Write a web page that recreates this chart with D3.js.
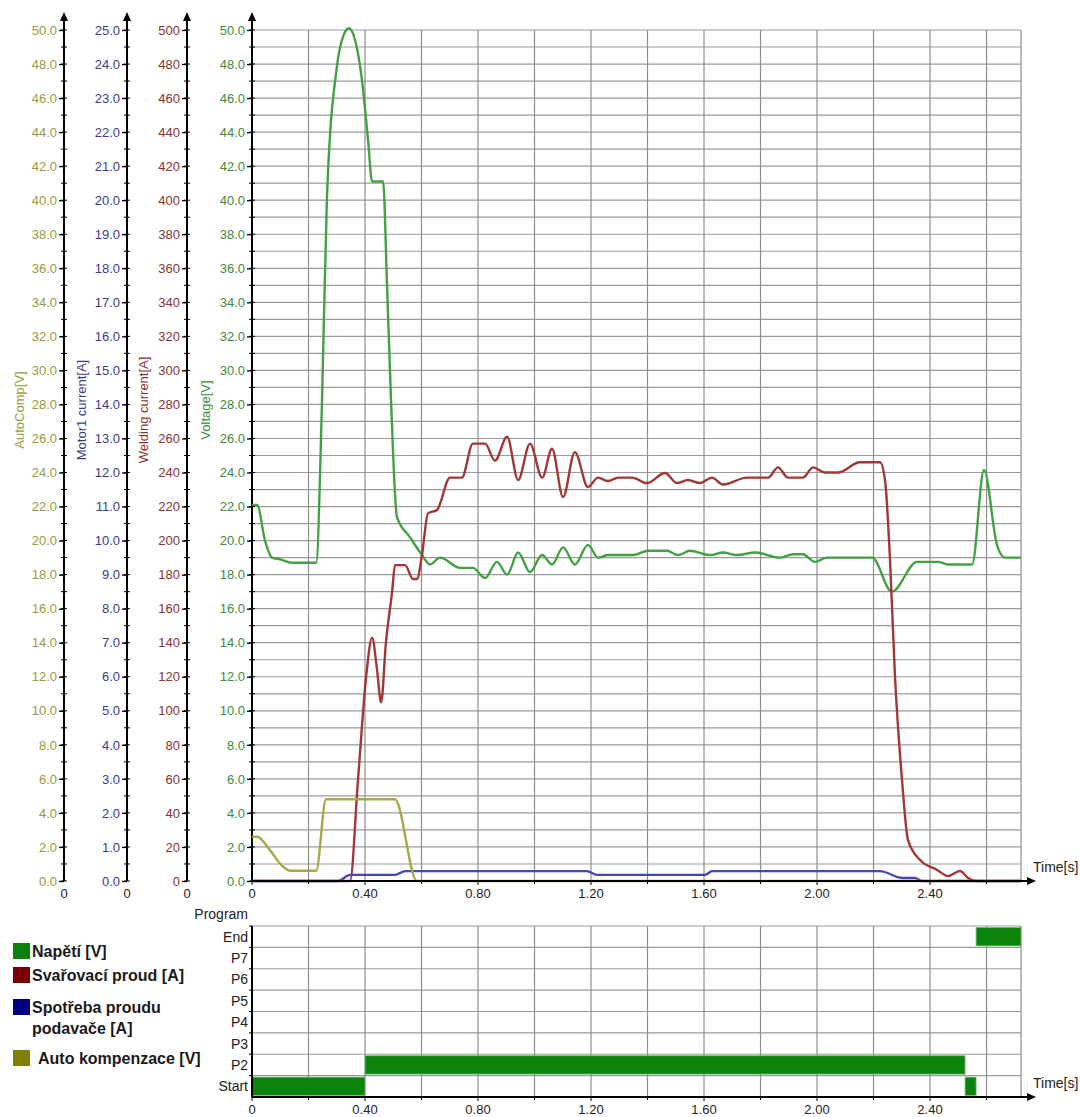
<!DOCTYPE html>
<html>
<head>
<meta charset="utf-8">
<script src="https://cdnjs.cloudflare.com/ajax/libs/d3/7.8.5/d3.min.js"></script>
<style>
    body { margin: 0; background: #fff; }
    svg { display: block; font-family: "Liberation Sans", Arial, sans-serif; }
</style>
</head>
<body>
<div id="chart"></div>
<script>
// [time s, value]
const voltage = [
    [0, 22.1], [0.018, 22.1], [0.046, 20.0], [0.071, 19.0], [0.099, 18.9], [0.142, 18.7],
    [0.227, 18.7], [0.248, 28.3], [0.265, 40.0], [0.301, 47.9], [0.322, 49.6], [0.343, 50.1],
    [0.365, 49.4], [0.389, 47.1], [0.411, 43.5], [0.425, 41.1], [0.464, 41.1], [0.478, 35.0],
    [0.492, 28.3], [0.513, 21.4], [0.559, 20.2], [0.602, 19.15], [0.630, 18.6], [0.666, 19.0],
    [0.736, 18.4], [0.782, 18.4], [0.825, 17.8], [0.867, 18.75], [0.903, 18.0], [0.942, 19.3],
    [0.984, 18.15], [1.027, 19.15], [1.062, 18.6], [1.101, 19.6], [1.143, 18.6], [1.189, 19.75],
    [1.225, 19.0], [1.260, 19.15], [1.349, 19.15], [1.402, 19.4], [1.469, 19.4], [1.508, 19.15],
    [1.550, 19.4], [1.621, 19.15], [1.667, 19.3], [1.717, 19.15], [1.781, 19.3], [1.869, 19.0],
    [1.915, 19.2], [1.950, 19.2], [1.993, 18.75], [2.035, 19.0], [2.195, 19.0], [2.265, 17.0],
    [2.354, 18.75], [2.428, 18.75], [2.464, 18.6], [2.549, 18.6], [2.591, 24.15], [2.637, 19.75],
    [2.665, 19.0], [2.722, 19.0]
];

const weldingCurrent = [
    [0, 0], [0.347, 0], [0.375, 59], [0.404, 120], [0.425, 143], [0.442, 125], [0.457, 105],
    [0.474, 140], [0.496, 170], [0.506, 185.6], [0.542, 185.6], [0.570, 177.4], [0.584, 177.4],
    [0.602, 192], [0.623, 216], [0.655, 218], [0.701, 237], [0.743, 237], [0.782, 257],
    [0.825, 257], [0.860, 247], [0.903, 261], [0.942, 235.6], [0.984, 257], [1.027, 237],
    [1.062, 254], [1.101, 225.6], [1.143, 252], [1.189, 231.5], [1.225, 237], [1.260, 235],
    [1.296, 237], [1.345, 237], [1.398, 233.8], [1.462, 239.7], [1.504, 233.8], [1.543, 235.6],
    [1.586, 233.8], [1.628, 237], [1.667, 233], [1.752, 237], [1.827, 237], [1.862, 243],
    [1.897, 237], [1.950, 237], [1.986, 243], [2.028, 240], [2.074, 240], [2.152, 246],
    [2.223, 246], [2.241, 235], [2.258, 190], [2.276, 120], [2.301, 59], [2.322, 24],
    [2.365, 12.3], [2.425, 6.5], [2.464, 2.9], [2.506, 5.9], [2.535, 1.8], [2.566, 0], [2.722, 0]
];

const motorCurrent = [
    [0, 0], [0.304, 0], [0.347, 0.18], [0.506, 0.18], [0.542, 0.29], [1.186, 0.29],
    [1.221, 0.18], [1.604, 0.18], [1.628, 0.29], [2.223, 0.29], [2.301, 0.09], [2.347, 0.09],
    [2.372, 0], [2.722, 0]
];

const autoComp = [
    [0, 2.6], [0.018, 2.6], [0.064, 1.8], [0.106, 0.9], [0.135, 0.6], [0.227, 0.6],
    [0.262, 4.8], [0.506, 4.8], [0.584, 0], [2.722, 0]
];

const programSteps = ['End', 'P7', 'P6', 'P5', 'P4', 'P3', 'P2', 'Start'];
const programBars = [
    { step: 'Start', from: 0, to: 0.40 },
    { step: 'P2', from: 0.40, to: 2.524 },
    { step: 'Start', from: 2.524, to: 2.563 },
    { step: 'End', from: 2.563, to: 2.722 }
];

const timeMax = 2.722;
const timeTicks = [0, 0.4, 0.8, 1.2, 1.6, 2.0, 2.4];
const axisTitles = ['AutoComp[V]', 'Motor1 current[A]', 'Welding current[A]', 'Voltage[V]'];
const axisMax = [50, 25, 500, 50];
const axisMajor = [2, 1, 20, 2];
const axisMinor = [1, 0.5, 10, 1];
const legendLabels = [['Napětí [V]'], ['Svařovací proud [A]'], ['Spotřeba proudu', 'podavače [A]'], ['Auto kompenzace [V]']];

document.addEventListener('DOMContentLoaded', () => {
    const W = 1080, H = 1117;
    const plot = { left: 252, right: 1021, top: 30, bottom: 881 };
    const prog = { top: 926, bottom: 1097 };

    const svg = d3.select('#chart')
        .append('svg')
        .attr('width', W)
        .attr('height', H);

    svg.append('rect').attr('width', W).attr('height', H).attr('fill', '#fff');

    const x = d3.scaleLinear().domain([0, timeMax]).range([plot.left, plot.right]);

    // axis styling per series (autocomp, motor, welding, voltage)
    const axisX = [64, 127, 187, 252];
    const labelColor = ['#9a9a3a', '#3c3c8a', '#8a3232', '#3c8c3c'];
    const lineColor = ['#a8a848', '#4646b4', '#a03838', '#44a044'];
    const fmt = [d3.format('.1f'), d3.format('.1f'), d3.format('d'), d3.format('.1f')];
    const titleX = [19, 81, 143, 205];

    const yScales = axisMax.map(m => d3.scaleLinear().domain([0, m]).range([plot.bottom, plot.top]));
    const yV = yScales[3];

    // grid lines, main chart
    const grid = svg.append('g').attr('class', 'grid');
    grid.selectAll('line.h')
        .data(d3.range(1, 51))
        .enter()
        .append('line')
        .attr('x1', plot.left).attr('x2', plot.right)
        .attr('y1', d => yV(d)).attr('y2', d => yV(d))
        .attr('stroke', '#9a9a9a').attr('stroke-width', 1.2);
    grid.selectAll('line.v')
        .data(d3.range(1, 14).map(i => i * 0.2))
        .enter()
        .append('line')
        .attr('x1', d => x(d)).attr('x2', d => x(d))
        .attr('y1', plot.top).attr('y2', plot.bottom)
        .attr('stroke', '#8e8e8e').attr('stroke-width', 1.2);
    grid.append('line')
        .attr('x1', plot.right).attr('x2', plot.right)
        .attr('y1', plot.top).attr('y2', plot.bottom)
        .attr('stroke', '#8e8e8e').attr('stroke-width', 1.2);

    // y axes
    yScales.forEach((y, i) => {
        const g = svg.append('g')
            .attr('transform', `translate(${axisX[i]},0)`)
            .call(d3.axisLeft(y)
                .tickValues(d3.range(0, axisMax[i] + 1e-6, axisMajor[i]))
                .tickFormat(fmt[i])
                .tickSize(5)
                .tickSizeOuter(0)
                .tickPadding(2));
        g.select('.domain').remove();
        g.selectAll('.tick line').attr('stroke', '#000').attr('stroke-width', 1.3);
        g.selectAll('.tick text')
            .attr('fill', labelColor[i])
            .style('font-size', '13px')
            .style('font-family', '"Liberation Sans", Arial, sans-serif');

        g.selectAll('line.minor')
            .data(d3.range(0, axisMax[i] + 1e-6, axisMinor[i]))
            .enter()
            .append('line')
            .attr('x1', -3).attr('x2', 3)
            .attr('y1', d => y(d)).attr('y2', d => y(d))
            .attr('stroke', '#000').attr('stroke-width', 1);

        g.append('line')
            .attr('x1', 0).attr('x2', 0)
            .attr('y1', plot.bottom).attr('y2', 19)
            .attr('stroke', '#000').attr('stroke-width', 2);
        g.append('path')
            .attr('d', 'M0,12 L-4,21 L4,21 Z')
            .attr('fill', '#000');

        svg.append('text')
            .attr('transform', `translate(${titleX[i]},410) rotate(-90)`)
            .attr('text-anchor', 'middle')
            .attr('dominant-baseline', 'central')
            .attr('fill', labelColor[i])
            .style('font-size', '13px')
            .text(axisTitles[i]);

        // "0" under each axis
        if (i < 3) {
            svg.append('text')
                .attr('x', axisX[i]).attr('y', 898)
                .attr('text-anchor', 'middle')
                .attr('fill', '#222')
                .style('font-size', '13px')
                .text('0');
        }
    });

    // series lines
    const series = [voltage, weldingCurrent, motorCurrent, autoComp];
    const seriesAxis = [3, 2, 1, 0];
    series.forEach((data, k) => {
        const ai = seriesAxis[k];
        const line = d3.line()
            .x(d => x(d[0]))
            .y(d => yScales[ai](d[1]))
            .curve(d3.curveMonotoneX);
        svg.append('path')
            .datum(data)
            .attr('fill', 'none')
            .attr('stroke', lineColor[ai])
            .attr('stroke-width', 2.4)
            .attr('stroke-linejoin', 'round')
            .attr('d', line);
    });

    // x axis helper
    const drawTimeAxis = (yPos) => {
        const g = svg.append('g').attr('transform', `translate(0,${yPos})`);
        g.append('line')
            .attr('x1', plot.left).attr('x2', 1029)
            .attr('stroke', '#000').attr('stroke-width', 2);
        g.append('path')
            .attr('d', 'M1036,0 L1027,-4 L1027,4 Z')
            .attr('fill', '#000');
        g.selectAll('line.tk')
            .data(d3.range(0, 14).map(i => i * 0.2))
            .enter()
            .append('line')
            .attr('x1', d => x(d)).attr('x2', d => x(d))
            .attr('y1', 0).attr('y2', (d, i) => i % 2 === 0 ? 4 : 3)
            .attr('stroke', '#000');
        g.selectAll('text.tl')
            .data(timeTicks)
            .enter()
            .append('text')
            .attr('x', d => x(d))
            .attr('y', 17)
            .attr('text-anchor', 'middle')
            .attr('fill', '#222')
            .style('font-size', '13px')
            .text(d => d === 0 ? '0' : d3.format('.2f')(d));
        g.append('text')
            .attr('x', 1033).attr('y', -9)
            .attr('fill', '#222')
            .style('font-size', '14px')
            .text('Time[s]');
    };
    drawTimeAxis(plot.bottom);

    // program chart
    const yP = d3.scaleBand().domain(programSteps).range([prog.top, prog.bottom]);
    const pg = svg.append('g').attr('class', 'program');

    pg.selectAll('line.h')
        .data(programSteps)
        .enter()
        .append('line')
        .attr('x1', plot.left).attr('x2', plot.right)
        .attr('y1', d => yP(d)).attr('y2', d => yP(d))
        .attr('stroke', '#9a9a9a').attr('stroke-width', 1.2);
    pg.selectAll('line.v')
        .data(d3.range(1, 14).map(i => i * 0.2))
        .enter()
        .append('line')
        .attr('x1', d => x(d)).attr('x2', d => x(d))
        .attr('y1', prog.top).attr('y2', prog.bottom)
        .attr('stroke', '#8e8e8e').attr('stroke-width', 1.2);
    pg.append('line')
        .attr('x1', plot.right).attr('x2', plot.right)
        .attr('y1', prog.top).attr('y2', prog.bottom)
        .attr('stroke', '#8e8e8e').attr('stroke-width', 1.2);

    pg.selectAll('rect.bar')
        .data(programBars)
        .enter()
        .append('rect')
        .attr('x', d => x(d.from))
        .attr('width', d => x(d.to) - x(d.from))
        .attr('y', d => yP(d.step) + 1.5)
        .attr('height', yP.bandwidth() - 3)
        .attr('fill', '#0a840a')
        .attr('stroke', '#7fb97f')
        .attr('stroke-width', 0.8);

    pg.append('line')
        .attr('x1', plot.left).attr('x2', plot.left)
        .attr('y1', prog.top).attr('y2', prog.bottom)
        .attr('stroke', '#000').attr('stroke-width', 2);
    pg.selectAll('line.tk')
        .data(programSteps)
        .enter()
        .append('line')
        .attr('x1', plot.left - 3).attr('x2', plot.left)
        .attr('y1', d => yP(d)).attr('y2', d => yP(d))
        .attr('stroke', '#000');
    pg.selectAll('text.cat')
        .data(programSteps)
        .enter()
        .append('text')
        .attr('x', 248)
        .attr('y', d => yP(d) + yP.bandwidth() / 2 + 5)
        .attr('text-anchor', 'end')
        .attr('fill', '#222')
        .style('font-size', '14px')
        .text(d => d);
    pg.append('text')
        .attr('x', 248).attr('y', 919)
        .attr('text-anchor', 'end')
        .attr('fill', '#222')
        .style('font-size', '14px')
        .text('Program');

    drawTimeAxis(prog.bottom);

    // legend
    const legendColor = ['#0a820a', '#7a0000', '#000080', '#808000'];
    const legendTop = [943, 967, 999, 1050];
    const lg = svg.append('g').attr('class', 'legend');
    legendLabels.forEach((lines, i) => {
        lg.append('rect')
            .attr('x', 13).attr('y', legendTop[i])
            .attr('width', 17).attr('height', 16)
            .attr('fill', legendColor[i]);
        lines.forEach((t, j) => {
            lg.append('text')
                .attr('x', i === 3 ? 38 : 32)
                .attr('y', legendTop[i] + 14 + j * 21)
                .attr('fill', '#1a1a1a')
                .style('font-size', '16px')
                .style('font-weight', 'bold')
                .text(t);
        });
    });
});
</script>
</body>
</html>
